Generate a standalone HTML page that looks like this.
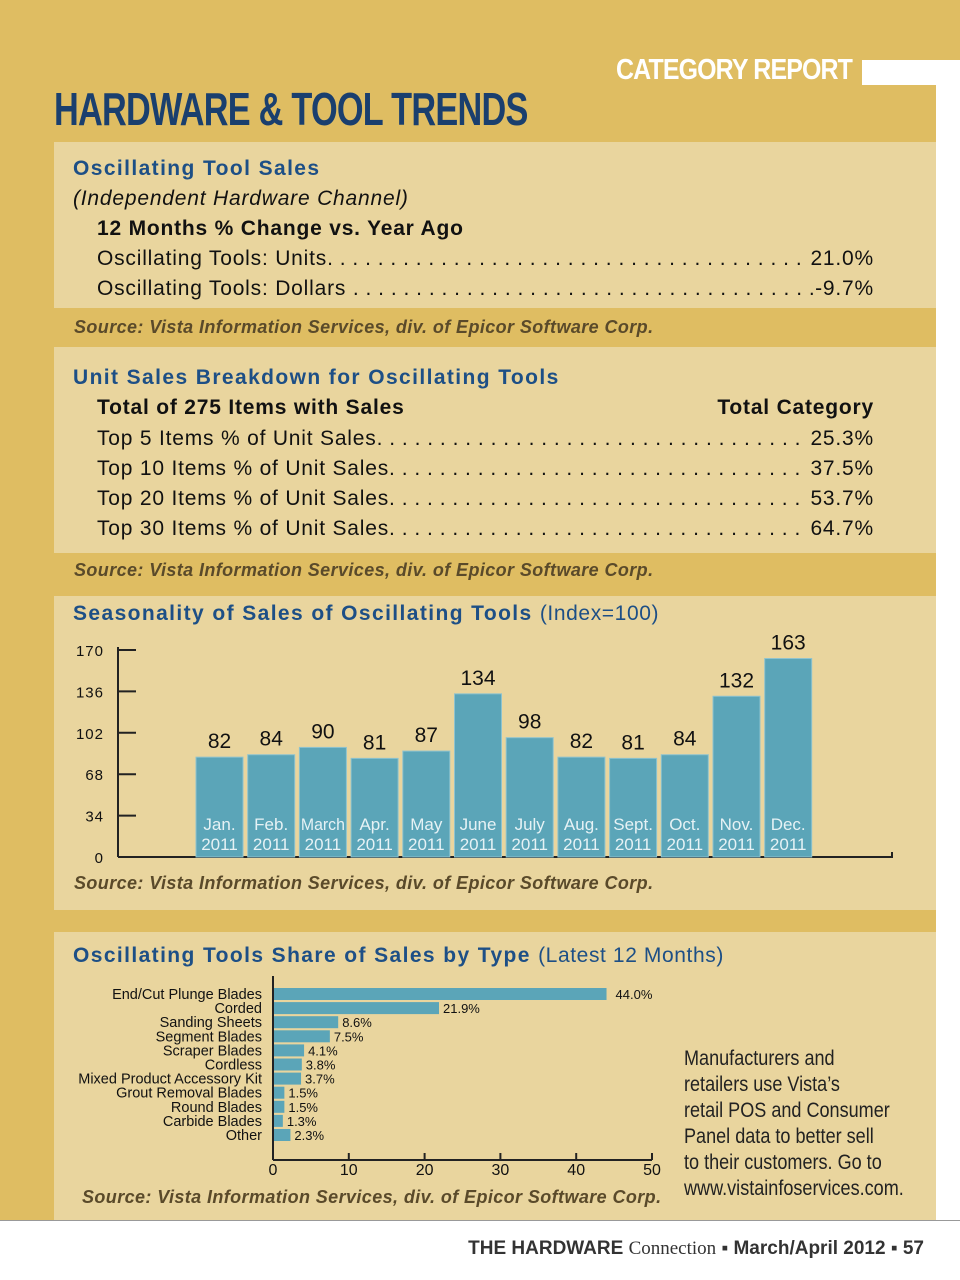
<!DOCTYPE html>
<html><head><meta charset="utf-8">
<style>
*{margin:0;padding:0;box-sizing:border-box}
body{width:960px;height:1280px;position:relative;background:#fff;font-family:"Liberation Sans",sans-serif;overflow:hidden}
.abs{position:absolute}
.gold{background:#dfbd62}
.panel{background:#e9d59e}
.h{color:#1d4f86;font-weight:bold;font-size:21px;letter-spacing:1.4px}
.h span{letter-spacing:0.6px}
.t{color:#111;font-size:21px;letter-spacing:0.8px}
.src{color:#5a4a2a;font-style:italic;font-weight:bold;font-size:18px;letter-spacing:0.4px}
.row{position:absolute;left:97px;width:777px;display:flex;font-size:21px;color:#111;letter-spacing:0.8px}
.row .d{flex:1;overflow:hidden;white-space:nowrap;letter-spacing:0.5px}
</style></head><body>
<div class="abs gold" style="left:0;top:0;width:960px;height:60px"></div>
<div class="abs gold" style="left:0;top:60px;width:862px;height:25px"></div>
<div class="abs gold" style="left:0;top:85px;width:936px;height:1135px"></div>
<div class="abs" style="left:616px;top:54px;color:#fff;font-weight:bold;font-size:29px;letter-spacing:-1px;transform:scaleX(0.86);transform-origin:left;white-space:nowrap">CATEGORY REPORT</div>
<div class="abs" style="left:54px;top:82px;color:#1a3f6e;font-weight:bold;font-size:46px;letter-spacing:-1px;transform:scaleX(0.745);transform-origin:left;white-space:nowrap">HARDWARE &amp; TOOL TRENDS</div>

<!-- Panel 1 -->
<div class="abs panel" style="left:54px;top:142px;width:882px;height:166px"></div>
<div class="abs h" style="left:73px;top:157px">Oscillating Tool Sales</div>
<div class="abs t" style="left:73px;top:187px;font-style:italic">(Independent Hardware Channel)</div>
<div class="abs t" style="left:97px;top:217px;font-weight:bold">12 Months % Change vs. Year Ago</div>
<div class="row" style="top:247px"><span>Oscillating Tools: Units</span><span class="d">. . . . . . . . . . . . . . . . . . . . . . . . . . . . . . . . . . . . . . . . . . . . . . . . . . . . . . . . . . . . . . . . . . . . .</span><span>&nbsp;21.0%</span></div>
<div class="row" style="top:277px"><span>Oscillating Tools: Dollars&nbsp;</span><span class="d">. . . . . . . . . . . . . . . . . . . . . . . . . . . . . . . . . . . . . . . . . . . . . . . . . . . . . . . . . . . . . . . . . . . . .</span><span>-9.7%</span></div>
<div class="abs src" style="left:74px;top:317px">Source: Vista Information Services, div. of Epicor Software Corp.</div>

<!-- Panel 2 -->
<div class="abs panel" style="left:54px;top:347px;width:882px;height:206px"></div>
<div class="abs h" style="left:73px;top:366px">Unit Sales Breakdown for Oscillating Tools</div>
<div class="abs t" style="left:97px;top:396px;font-weight:bold">Total of 275 Items with Sales</div>
<div class="abs t" style="right:86px;top:396px;font-weight:bold">Total Category</div>
<div class="row" style="top:427px"><span>Top 5 Items % of Unit Sales</span><span class="d">. . . . . . . . . . . . . . . . . . . . . . . . . . . . . . . . . . . . . . . . . . . . . . . . . . . . . . . . . . . . . .</span><span>&nbsp;25.3%</span></div>
<div class="row" style="top:457px"><span>Top 10 Items % of Unit Sales</span><span class="d">. . . . . . . . . . . . . . . . . . . . . . . . . . . . . . . . . . . . . . . . . . . . . . . . . . . . . . . . . . . . . .</span><span>&nbsp;37.5%</span></div>
<div class="row" style="top:487px"><span>Top 20 Items % of Unit Sales</span><span class="d">. . . . . . . . . . . . . . . . . . . . . . . . . . . . . . . . . . . . . . . . . . . . . . . . . . . . . . . . . . . . . .</span><span>&nbsp;53.7%</span></div>
<div class="row" style="top:517px"><span>Top 30 Items % of Unit Sales</span><span class="d">. . . . . . . . . . . . . . . . . . . . . . . . . . . . . . . . . . . . . . . . . . . . . . . . . . . . . . . . . . . . . .</span><span>&nbsp;64.7%</span></div>
<div class="abs src" style="left:74px;top:560px">Source: Vista Information Services, div. of Epicor Software Corp.</div>

<!-- Panel 3 -->
<div class="abs panel" style="left:54px;top:596px;width:882px;height:314px"></div>
<div class="abs h" style="left:73px;top:602px;white-space:nowrap">Seasonality of Sales of Oscillating Tools <span style="font-weight:normal">(Index=100)</span></div>
<svg class="abs" style="left:0;top:0" width="960" height="1280" id="chart1"></svg>
<div class="abs src" style="left:74px;top:873px">Source: Vista Information Services, div. of Epicor Software Corp.</div>

<!-- Panel 4 -->
<div class="abs panel" style="left:54px;top:932px;width:882px;height:288px"></div>
<div class="abs h" style="left:73px;top:944px;white-space:nowrap">Oscillating Tools Share of Sales by Type <span style="font-weight:normal">(Latest 12 Months)</span></div>
<svg class="abs" style="left:0;top:0" width="960" height="1280" id="chart2"></svg>
<div class="abs src" style="left:82px;top:1187px">Source: Vista Information Services, div. of Epicor Software Corp.</div>
<div class="abs" style="left:684px;top:1046px;font-size:21px;line-height:26px;color:#222;transform:scaleX(0.86);transform-origin:left;white-space:nowrap">Manufacturers and<br>retailers use Vista’s<br>retail POS and Consumer<br>Panel data to better sell<br>to their customers. Go to<br>www.vistainfoservices.com.</div>

<div class="abs" style="left:0;top:1220px;width:960px;height:1px;background:#999"></div>
<div class="abs" style="right:36px;top:1238px;font-size:19px;color:#333;white-space:nowrap"><b>THE HARDWARE</b> <span style="font-family:'Liberation Serif',serif">Connection</span> ▪ <b>March/April 2012</b> ▪ <b>57</b></div>

<script>
const months = ["Jan.","Feb.","March","Apr.","May","June","July","Aug.","Sept.","Oct.","Nov.","Dec."];
const indexValues = [82,84,90,81,87,134,98,82,81,84,132,163];
const yTicks = [0,34,68,102,136,170];
const types = ["End/Cut Plunge Blades","Corded","Sanding Sheets","Segment Blades","Scraper Blades","Cordless","Mixed Product Accessory Kit","Grout Removal Blades","Round Blades","Carbide Blades","Other"];
const shares = [44.0,21.9,8.6,7.5,4.1,3.8,3.7,1.5,1.5,1.3,2.3];
const xTicks = [0,10,20,30,40,50];
const NS="http://www.w3.org/2000/svg";
function mk(svg,tag,attrs,text){const e=document.createElementNS(NS,tag);for(const k in attrs)e.setAttribute(k,attrs[k]);if(text!==undefined)e.textContent=text;svg.appendChild(e);return e;}
// chart 1
const s1=document.getElementById('chart1');
const y=v=>857-v*(207/170);
const bx=i=>196+i*51.7;
let e=mk(s1,'line',{x1:118,y1:647,x2:118,y2:857,stroke:'#222','stroke-width':2});

e=mk(s1,'line',{x1:118,y1:857,x2:892,y2:857,stroke:'#222','stroke-width':2});

mk(s1,'line',{x1:892,y1:852,x2:892,y2:858,stroke:'#222','stroke-width':2});
yTicks.forEach(t=>{
  if(t>0){e=mk(s1,'line',{x1:118,y1:y(t),x2:136,y2:y(t),stroke:'#222','stroke-width':2});
  }
  e=mk(s1,'text',{x:104,y:y(t)+6,'text-anchor':'end','font-size':15,'letter-spacing':1,fill:'#111','font-family':'Liberation Sans'},t);
  
});
indexValues.forEach((v,i)=>{
  e=mk(s1,'rect',{x:bx(i),y:y(v),width:47,height:857-y(v),fill:'#5ba5b8',stroke:'#8ec3cf','stroke-width':1});
  
  e=mk(s1,'text',{x:bx(i)+23.5,y:y(v)-9,'text-anchor':'middle','font-size':21,fill:'#111','font-family':'Liberation Sans'},v);
  
  e=mk(s1,'text',{x:bx(i)+23.5,y:830,'text-anchor':'middle','font-size':17,fill:'#e6f2f5','font-family':'Liberation Sans'},months[i]);
  if(months[i]==='March'){e.setAttribute('textLength',44);e.setAttribute('lengthAdjust','spacingAndGlyphs');}
  
  e=mk(s1,'text',{x:bx(i)+23.5,y:850,'text-anchor':'middle','font-size':17,fill:'#e6f2f5','font-family':'Liberation Sans'},'2011');
  
});
// chart 2
const s2=document.getElementById('chart2');
const x=v=>273+v*7.58;
const ry=i=>994+i*14.1;
e=mk(s2,'line',{x1:273,y1:976,x2:273,y2:1160,stroke:'#222','stroke-width':2});

e=mk(s2,'line',{x1:273,y1:1160,x2:652,y2:1160,stroke:'#222','stroke-width':2});

xTicks.forEach(t=>{
  e=mk(s2,'line',{x1:x(t),y1:1153,x2:x(t),y2:1160,stroke:'#222','stroke-width':2});
  
  e=mk(s2,'text',{x:x(t),y:1175,'text-anchor':'middle','font-size':16,fill:'#111','font-family':'Liberation Sans'},t);
  
});
shares.forEach((v,i)=>{
  e=mk(s2,'rect',{x:274,y:ry(i)-6,width:x(v)-274,height:12,fill:'#5ba5b8'});
  
  e=mk(s2,'text',{x:x(v)+(i===0?9:4),y:ry(i)+5,'font-size':13,fill:'#111','font-family':'Liberation Sans'},v.toFixed(1)+'%');
  
  e=mk(s2,'text',{x:262,y:ry(i)+5,'text-anchor':'end','font-size':14.5,fill:'#111','font-family':'Liberation Sans'},types[i]);
  
});
</script>
</body></html>
